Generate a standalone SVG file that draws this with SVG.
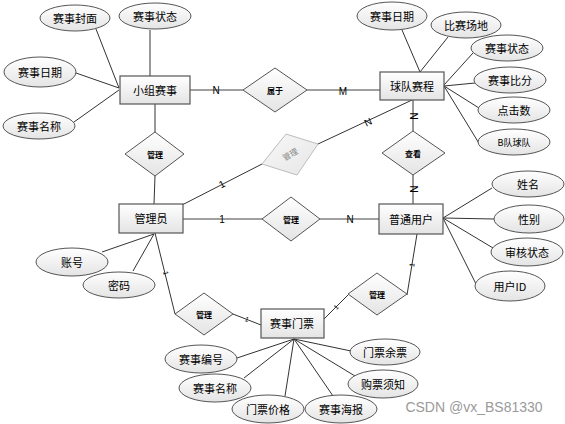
<svg xmlns="http://www.w3.org/2000/svg" width="565" height="424" viewBox="0 0 565 424">
<defs>
<linearGradient id="g" x1="0" y1="0" x2="0" y2="1">
<stop offset="0" stop-color="#ffffff"/><stop offset="1" stop-color="#e4e4e4"/>
</linearGradient>
<linearGradient id="g2" x1="0" y1="0" x2="1" y2="1">
<stop offset="0" stop-color="#f8f8f8"/><stop offset="1" stop-color="#e6e6e6"/>
</linearGradient>
</defs>
<style>
text{font-family:"Noto Sans CJK SC","Liberation Sans",sans-serif;fill:#000;text-anchor:middle;dominant-baseline:central}
.e{fill:url(#g);stroke:#555;stroke-width:1.2}
.a{fill:url(#g);stroke:#555;stroke-width:1}
.d{fill:url(#g);stroke:#555;stroke-width:1}
.t{font-size:11px}
.s{font-size:8px;font-weight:bold}
.c{font-size:10px;font-family:"Liberation Sans",sans-serif}
.al{stroke:#333;stroke-width:1;fill:none}
.rl{stroke:#808080;stroke-width:1.5;fill:none}
.rd{stroke:#333;stroke-width:1;fill:none}
</style>
<rect width="565" height="424" fill="#fff"/>
<g id="connectors">
<!-- attribute lines 小组赛事 -->
<line class="al" x1="96" y1="29" x2="119" y2="88"/>
<line class="al" x1="150" y1="30" x2="150" y2="76"/>
<line class="al" x1="76" y1="73" x2="119" y2="88"/>
<line class="al" x1="74" y1="122" x2="119" y2="90"/>
<!-- 球队赛程 -->
<line class="al" x1="402" y1="30" x2="420" y2="72"/>
<line class="al" x1="448" y1="37" x2="420" y2="72"/>
<line class="al" x1="473" y1="53" x2="444" y2="85"/>
<line class="al" x1="475" y1="83" x2="444" y2="86"/>
<line class="al" x1="479" y1="108" x2="444" y2="86"/>
<line class="al" x1="480" y1="145" x2="444" y2="86"/>
<!-- 普通用户 -->
<line class="al" x1="492" y1="188" x2="443" y2="218"/>
<line class="al" x1="494" y1="219" x2="443" y2="218"/>
<line class="al" x1="493" y1="248" x2="443" y2="218"/>
<line class="al" x1="478" y1="288" x2="443" y2="218"/>
<!-- 管理员 -->
<line class="al" x1="102" y1="252" x2="154" y2="234"/>
<line class="al" x1="133" y1="271" x2="154" y2="234"/>
<!-- 赛事门票 -->
<line class="al" x1="237" y1="358" x2="294" y2="339"/>
<line class="al" x1="244" y1="378" x2="294" y2="339"/>
<line class="al" x1="285" y1="396" x2="294" y2="339"/>
<line class="al" x1="333" y1="396" x2="294" y2="339"/>
<line class="al" x1="355" y1="376" x2="294" y2="339"/>
<line class="al" x1="351" y1="351" x2="294" y2="339"/>
<!-- relations -->
<line class="rl" x1="190" y1="90" x2="243" y2="90"/>
<line class="rl" x1="307" y1="90" x2="380" y2="90"/>
<line class="rd" x1="155" y1="104" x2="155" y2="132"/>
<line class="rd" x1="155" y1="176" x2="154" y2="204"/>
<line class="rd" x1="182" y1="205" x2="262" y2="164"/>
<line class="rd" x1="318" y1="144" x2="412" y2="100"/>
<line class="rd" x1="413" y1="100" x2="413" y2="131"/>
<line class="rd" x1="413" y1="175" x2="413" y2="204"/>
<line class="rl" x1="183" y1="219" x2="262" y2="219"/>
<line class="rl" x1="320" y1="219" x2="379" y2="219"/>
<line class="rd" x1="155" y1="233" x2="175" y2="314"/>
<line class="rd" x1="233" y1="314" x2="261" y2="325"/>
<line class="rd" x1="324" y1="319" x2="348" y2="295"/>
<line class="rd" x1="407" y1="295" x2="417" y2="234"/>
<!-- cardinalities -->
<text class="c" x="216" y="90">N</text>
<text class="c" x="343" y="91">M</text>
<text class="c" x="222" y="184" transform="rotate(-27 222 184)">1</text>
<text class="c" x="368" y="122" transform="rotate(-25 368 122)">N</text>
<text class="c" x="413" y="116" transform="rotate(90 413 116)">N</text>
<text class="c" x="413" y="189" transform="rotate(90 413 189)">N</text>
<text class="c" x="222" y="219">1</text>
<text class="c" x="350" y="219">N</text>
<text class="c" x="166" y="273" transform="rotate(76 166 273)" style="font-size:7px">1</text>
<text class="c" x="247" y="319" transform="rotate(21 247 319)" style="font-size:7px">1</text>
<text class="c" x="336" y="307" transform="rotate(-45 336 307)" style="font-size:7px">1</text>
<text class="c" x="412" y="265" transform="rotate(-80 412 265)" style="font-size:7px">1</text>
</g>
<g id="e-xiaozu"><rect class="e" x="120" y="76" width="70" height="28"/><text class="t" x="155" y="90">小组赛事</text></g>
<g id="e-qiudui"><rect class="e" x="380" y="72" width="64" height="28"/><text class="t" x="412" y="86">球队赛程</text></g>
<g id="e-admin"><rect class="e" x="119" y="204" width="64" height="29"/><text class="t" x="151" y="218">管理员</text></g>
<g id="e-user"><rect class="e" x="379" y="204" width="64" height="30"/><text class="t" x="411" y="219">普通用户</text></g>
<g id="e-ticket"><rect class="e" x="261" y="309" width="63" height="29"/><text class="t" x="292" y="323">赛事门票</text></g>

<g id="r-shuyu"><polygon class="d" points="275,68 307,90 275,112 243,90"/><text class="s" x="275" y="90">属于</text></g>
<g id="r-guanli1"><polygon class="d" points="155,132 184,154 155,176 125,154"/><text class="s" x="155" y="154">管理</text></g>
<g id="r-chakan"><polygon class="d" points="413,131 445,153 413,175 382,153"/><text class="s" x="413" y="153">查看</text></g>
<g id="r-guanli2"><polygon class="d" points="291,197 320,219 291,241 262,219"/><text class="s" x="291" y="219">管理</text></g>
<g id="r-guanli3"><polygon points="286,134 318,144 297,175 262,164" fill="url(#g2)" stroke="#bdbdbd" stroke-width="1"/><text x="290" y="154" transform="rotate(-30 290 154)" style="font-size:8px;fill:#888">管理</text></g>
<g id="r-guanli4"><polygon class="d" points="204,293 233,314 204,335 175,314"/><text class="s" x="204" y="314">管理</text></g>
<g id="r-guanli5"><polygon class="d" points="377,273 407,294 377,315 348,294"/><text class="s" x="377" y="294">管理</text></g>

<g id="a1"><ellipse class="a" cx="75" cy="18" rx="35" ry="13"/><text class="t" x="75" y="18">赛事封面</text></g>
<g id="a2"><ellipse class="a" cx="155" cy="16" rx="36" ry="13"/><text class="t" x="155" y="16">赛事状态</text></g>
<g id="a3"><ellipse class="a" cx="40" cy="72" rx="36" ry="15"/><text class="t" x="40" y="72">赛事日期</text></g>
<g id="a4"><ellipse class="a" cx="39" cy="126" rx="36" ry="13"/><text class="t" x="39" y="126">赛事名称</text></g>

<g id="b1"><ellipse class="a" cx="392" cy="16" rx="35" ry="14"/><text class="t" x="392" y="16">赛事日期</text></g>
<g id="b2"><ellipse class="a" cx="466" cy="25" rx="35" ry="13"/><text class="t" x="466" y="25">比赛场地</text></g>
<g id="b3"><ellipse class="a" cx="507" cy="48" rx="36" ry="13"/><text class="t" x="507" y="48">赛事状态</text></g>
<g id="b4"><ellipse class="a" cx="510" cy="80" rx="36" ry="13"/><text class="t" x="510" y="80">赛事比分</text></g>
<g id="b5"><ellipse class="a" cx="514" cy="110" rx="36" ry="13"/><text class="t" x="514" y="110">点击数</text></g>
<g id="b6"><ellipse class="a" cx="514" cy="142" rx="36" ry="13"/><text class="t" x="514" y="142" style="font-size:9px">B队球队</text></g>

<g id="c1"><ellipse class="a" cx="528" cy="184" rx="36" ry="13"/><text class="t" x="528" y="184">姓名</text></g>
<g id="c2"><ellipse class="a" cx="529" cy="219" rx="35" ry="14"/><text class="t" x="529" y="219">性别</text></g>
<g id="c3"><ellipse class="a" cx="527" cy="252" rx="36" ry="14"/><text class="t" x="527" y="252">审核状态</text></g>
<g id="c4"><ellipse class="a" cx="510" cy="286" rx="35" ry="15"/><text class="t" x="510" y="286">用户ID</text></g>

<g id="d1"><ellipse class="a" cx="72" cy="262" rx="36" ry="14"/><text class="t" x="72" y="262">账号</text></g>
<g id="d2"><ellipse class="a" cx="119" cy="285" rx="36" ry="13"/><text class="t" x="119" y="285">密码</text></g>

<g id="f1"><ellipse class="a" cx="201" cy="359" rx="36" ry="14"/><text class="t" x="201" y="359">赛事编号</text></g>
<g id="f2"><ellipse class="a" cx="215" cy="388" rx="36" ry="14"/><text class="t" x="215" y="388">赛事名称</text></g>
<g id="f3"><ellipse class="a" cx="268" cy="409" rx="36" ry="14"/><text class="t" x="268" y="409">门票价格</text></g>
<g id="f4"><ellipse class="a" cx="341" cy="409" rx="36" ry="14"/><text class="t" x="341" y="409">赛事海报</text></g>
<g id="f5"><ellipse class="a" cx="383" cy="384" rx="35" ry="14"/><text class="t" x="383" y="384">购票须知</text></g>
<g id="f6"><ellipse class="a" cx="385" cy="352" rx="35" ry="13"/><text class="t" x="385" y="352">门票余票</text></g>

<text x="474" y="407" style="font-size:14px;fill:#9a9a9a;font-family:'Liberation Sans',sans-serif">CSDN @vx_BS81330</text>
</svg>
